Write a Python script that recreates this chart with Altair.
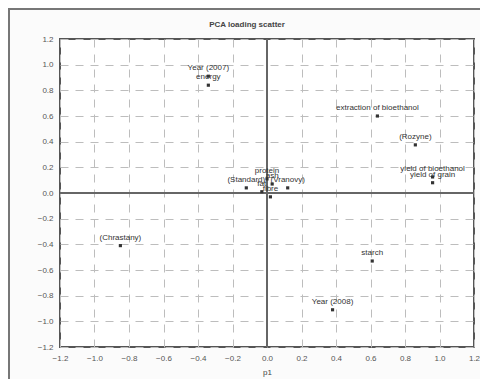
import altair as alt
import pandas as pd

# ---- data ----
labels = [
    "Year (2007)", "energy", "extraction of bioethanol", "(Rozyne)",
    "yield of bioethanol", "yield of grain", "(Chrastany)", "starch",
    "Year (2008)", "(Standard)", "(Vranovy)", "protein", "ash", "fat", "fibre",
]
p1 = [-0.34, -0.34, 0.64, 0.86, 0.96, 0.96, -0.85, 0.61, 0.38,
      -0.12, 0.12, 0.00, 0.03, -0.03, 0.02]
p2 = [0.91, 0.84, 0.60, 0.375, 0.125, 0.08, -0.41, -0.53, -0.91,
      0.04, 0.04, 0.11, 0.07, 0.01, -0.03]
tick_vals = [-1.2, -1.0, -0.8, -0.6, -0.4, -0.2, 0.0, 0.2, 0.4, 0.6, 0.8, 1.0, 1.2]
title_text = ["PCA loading scatter"]

df = pd.DataFrame({"label": labels, "p1": p1, "p2": p2})
zero = pd.DataFrame({"v": [0.0]})
tdf = pd.DataFrame({"t": title_text})

dom = [-1.2, 1.2]
xs = alt.Scale(domain=dom, nice=False, zero=False)
ys = alt.Scale(domain=dom, nice=False, zero=False)

xax = alt.Axis(values=tick_vals, format=".1f", title="p1", grid=True,
               gridDash=[8, 7], gridColor="#bdbdbd", gridWidth=1,
               domain=False, ticks=False, labelFontSize=8, labelColor="#555",
               labelPadding=7, labelOverlap=False, labelFlush=False,
               titleFontSize=8, titleFontWeight="normal",
               titleColor="#444", titlePadding=6)
yax = alt.Axis(values=tick_vals, format=".1f", title=None, grid=True,
               gridDash=[8, 7], gridColor="#bdbdbd", gridWidth=1,
               domain=False, ticks=False, labelFontSize=8, labelColor="#555",
               labelPadding=7, labelOverlap=False, labelFlush=False)

base = alt.Chart(df)

frame = alt.Chart(zero).mark_rect(fill=None, stroke="#777", strokeWidth=2).encode(
    x=alt.value(-51), x2=alt.value(480), y=alt.value(-30), y2=alt.value(400)
)

title = alt.Chart(tdf).mark_text(fontSize=8, fontWeight="bold", color="#444",
                                 baseline="middle", align="center").encode(
    x=alt.value(187), y=alt.value(-14), text="t:N"
)

vrule = alt.Chart(zero).mark_rule(color="#666", strokeWidth=2).encode(
    x=alt.X("v:Q", scale=xs, axis=xax)
)
hrule = alt.Chart(zero).mark_rule(color="#666", strokeWidth=2).encode(
    y=alt.Y("v:Q", scale=ys, axis=yax)
)

pts = base.mark_square(size=10, color="#333", opacity=1).encode(
    x=alt.X("p1:Q", scale=xs, axis=xax), y=alt.Y("p2:Q", scale=ys, axis=yax)
)

txt = base.mark_text(fontSize=8, color="#333", dy=-8, font="Liberation Sans").encode(
    x=alt.X("p1:Q", scale=xs, axis=xax), y=alt.Y("p2:Q", scale=ys, axis=yax),
    text="label:N"
)

chart = alt.layer(frame, title, vrule, hrule, pts, txt).properties(
    width=414, height=308,
    autosize=alt.AutoSizeParams(type="none"),
    padding={"left": 52, "top": 31, "right": 6, "bottom": 32},
    background="#fbfbfb",
).configure_view(fill="white", stroke="#555", strokeWidth=2)

chart.save("out.html", embed_options={"renderer": "svg", "actions": False})
